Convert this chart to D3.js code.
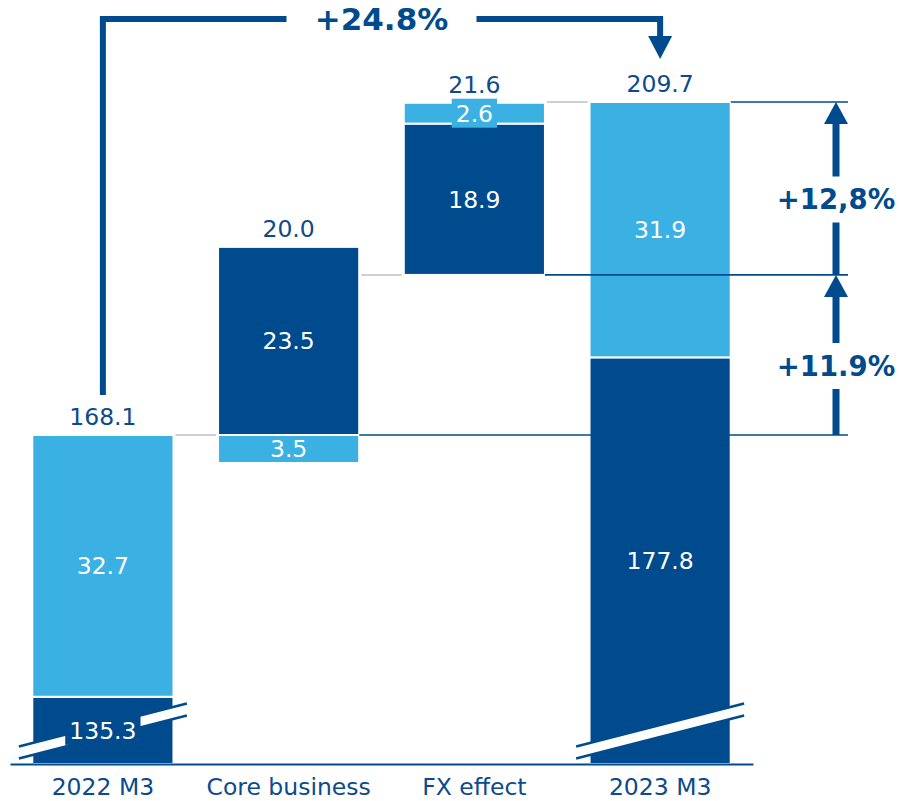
<!DOCTYPE html>
<html>
<head>
<meta charset="utf-8">
<script src="https://cdn.jsdelivr.net/npm/d3@7"></script>
<style>
  body { margin: 0; background: #fff; }
  svg { display: block; font-family: "DejaVu Sans", Verdana, sans-serif; }
</style>
</head>
<body>
<svg id="chart" width="900" height="801"></svg>
<script>
// Revenue bridge 2022 M3 -> 2023 M3
const categories = ["2022 M3", "Core business", "FX effect", "2023 M3"];
const darkValues = [135.3, 23.5, 18.9, 177.8];   // dark segment of each bar
const lightValues = [32.7, -3.5, 2.6, 31.9];     // light segment (negative = reduction)
const totals = [168.1, 20.0, 21.6, 209.7];       // bar totals / net changes
const topLabels = ["168.1", "20.0", "21.6", "209.7"];
const totalGrowth = "+24.8%";
const stepGrowth = ["+11.9%", "+12,8%"];
const axisBase = 127;                            // value at the broken baseline

const dark = "#004B8D", light = "#3BB1E3", grey = "#CFCFCF", ink = "#0B4A8C";
const svg = d3.select("#chart");
const axisY = 764;
const fs = 23.5;

const x = d3.scaleBand()
  .domain(categories)
  .range([10, 753])
  .paddingInner(0.24)
  .paddingOuter(0.12);
const bw = x.bandwidth();
const cx = c => x(c) + bw / 2;

// build stacked segments and running levels
const segments = [];
const barTops = [];
const levels = [];
let running = 0;
categories.forEach((c, i) => {
  const isTotal = i === 0 || i === categories.length - 1;
  if (isTotal) {
    const split = totals[i] - lightValues[i];
    segments.push({ c, kind: "dark", lo: axisBase, hi: split, value: darkValues[i], broken: true });
    segments.push({ c, kind: "light", lo: split, hi: totals[i], value: lightValues[i] });
    barTops.push({ c, level: totals[i], text: topLabels[i] });
    running = totals[i];
  } else {
    const start = running;
    const dHi = start + darkValues[i];
    segments.push({ c, kind: "dark", lo: start, hi: dHi, value: darkValues[i] });
    if (lightValues[i] < 0) {
      segments.push({ c, kind: "light", lo: start + lightValues[i], hi: start, value: lightValues[i] });
    } else {
      segments.push({ c, kind: "light", lo: dHi, hi: dHi + lightValues[i], value: lightValues[i] });
    }
    barTops.push({ c, level: dHi + Math.max(0, lightValues[i]), text: topLabels[i] });
    running = start + totals[i];
  }
  levels.push(running);
});

const yMax = d3.max(segments, d => d.hi);
const y = d3.scaleLinear().domain([axisBase, yMax]).range([axisY, 102]);

// connectors between consecutive bars
const conn = svg.append("g");
for (let i = 0; i < categories.length - 1; i++) {
  conn.append("line")
    .attr("x1", x(categories[i]) + bw + 2).attr("x2", x(categories[i + 1]) - 2)
    .attr("y1", y(levels[i])).attr("y2", y(levels[i]))
    .attr("stroke", grey).attr("stroke-width", 2);
}

// bars
svg.append("g").selectAll("rect").data(segments).join("rect")
  .attr("x", d => x(d.c))
  .attr("width", bw)
  .attr("y", d => y(d.hi))
  .attr("height", d => y(d.lo) - y(d.hi))
  .attr("fill", d => d.kind === "dark" ? dark : light)
  .attr("stroke", "#fff")
  .attr("stroke-width", 2);

// axis break marks on the total bars
const brk = svg.append("g");
segments.filter(d => d.broken).forEach(d => {
  const c = cx(d.c), cy = axisY - 33, hl = 84, dy = 21.5, off = 6;
  brk.append("path")
    .attr("d", `M${c - hl},${cy - off + dy}L${c + hl},${cy - off - dy}L${c + hl},${cy + off - dy}L${c - hl},${cy + off + dy}Z`)
    .attr("fill", "#fff");
  [-off, off].forEach(o => {
    brk.append("line")
      .attr("x1", c - hl).attr("y1", cy + o + dy)
      .attr("x2", c + hl).attr("y2", cy + o - dy)
      .attr("stroke", dark).attr("stroke-width", 2.5);
  });
});

// reference lines at each running level
const ref = svg.append("g");
for (let i = 0; i < categories.length - 1; i++) {
  ref.append("line")
    .attr("x1", x(categories[i + 1]) + bw).attr("x2", 848)
    .attr("y1", y(levels[i])).attr("y2", y(levels[i]))
    .attr("stroke", dark).attr("stroke-width", 1.6);
}

// segment value labels
const fmt = d3.format(".1f");
const lab = svg.append("g").attr("font-size", fs).attr("text-anchor", "middle");
segments.forEach(d => {
  const yTop = y(d.hi), yBot = Math.min(y(d.lo), axisY);
  const mid = (yTop + yBot) / 2;
  const t = fmt(Math.abs(d.value));
  const tx = lab.append("text")
    .attr("x", cx(d.c)).attr("y", mid + fs * 0.36)
    .attr("fill", "#fff").text(t);
  if (d.broken || (yBot - yTop) < 24) {
    const w = tx.node().getComputedTextLength();
    lab.insert("rect", () => tx.node())
      .attr("x", cx(d.c) - w / 2 - 4).attr("width", w + 8)
      .attr("y", mid - 14.5).attr("height", 29)
      .attr("fill", d.kind === "dark" ? dark : light);
  }
});

// labels above bars
svg.append("g").attr("font-size", fs).attr("text-anchor", "middle").attr("fill", ink)
  .selectAll("text").data(barTops).join("text")
  .attr("x", d => cx(d.c)).attr("y", d => y(d.level) - 10)
  .text(d => d.text);

// category axis
const axis = svg.append("g")
  .attr("transform", `translate(0,${axisY})`)
  .call(d3.axisBottom(x).tickSize(0).tickSizeOuter(0).tickPadding(14));
axis.select(".domain").attr("stroke", dark).attr("stroke-width", 2);
axis.selectAll("text").attr("font-size", fs).attr("fill", ink)
  .attr("font-family", "DejaVu Sans, Verdana, sans-serif");

// overall growth bracket
const first = categories[0], last = categories[categories.length - 1];
const lineY = 19;
const midX = (cx(first) + cx(last)) / 2;
const gap = 95;
const bracket = svg.append("g");
bracket.append("path")
  .attr("d", `M${cx(first)},${y(totals[0]) - 40}V${lineY}H${midX - gap}M${midX + gap},${lineY}H${cx(last)}V37`)
  .attr("fill", "none").attr("stroke", dark).attr("stroke-width", 6)
  .attr("stroke-linejoin", "miter");
bracket.append("path")
  .attr("d", `M${cx(last) - 12},36L${cx(last) + 12},36L${cx(last)},59Z`)
  .attr("fill", dark);
bracket.append("text")
  .attr("x", midX).attr("y", lineY + 11)
  .attr("text-anchor", "middle").attr("font-size", 31).attr("font-weight", "bold")
  .attr("fill", dark).text(totalGrowth);

// step growth arrows on the right
const ax = 836, head = 22, gfs = 27.5;
const arr = svg.append("g");
for (let k = 0; k < stepGrowth.length; k++) {
  const yLo = y(levels[k]), yHi = y(levels[k + 1]);
  const base = yHi + head;
  const tc = (base + yLo) / 2;
  arr.append("path")
    .attr("d", `M${ax},${yLo}V${tc + 23}M${ax},${tc - 23}V${base - 1}`)
    .attr("stroke", dark).attr("stroke-width", 7).attr("fill", "none");
  arr.append("path")
    .attr("d", `M${ax - 12},${base}L${ax + 12},${base}L${ax},${yHi}Z`)
    .attr("fill", dark);
  arr.append("text")
    .attr("x", ax).attr("y", tc + gfs * 0.36)
    .attr("text-anchor", "middle").attr("font-size", gfs).attr("font-weight", "bold")
    .attr("fill", dark).text(stepGrowth[k]);
}
</script>
</body>
</html>
